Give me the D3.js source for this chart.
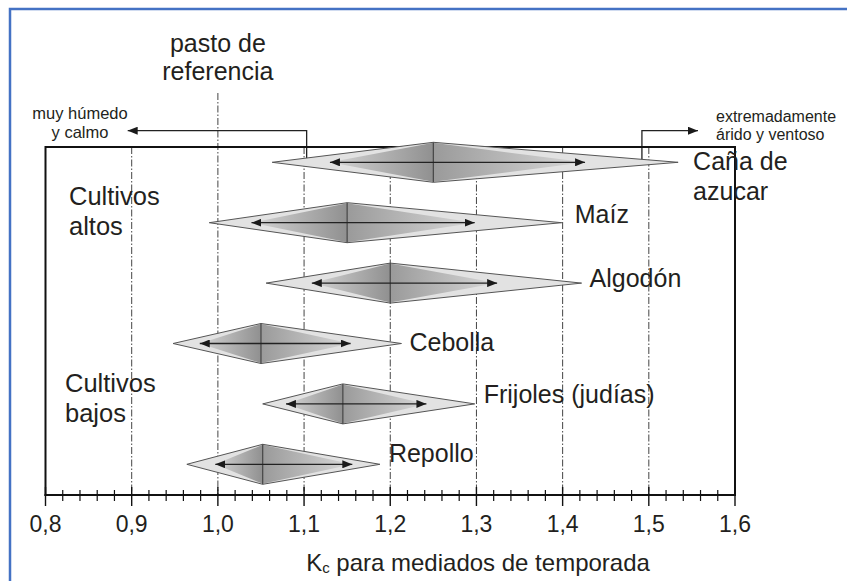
<!DOCTYPE html>
<html>
<head>
<meta charset="utf-8">
<script src="https://cdn.jsdelivr.net/npm/d3@7"></script>
<style>
  html, body { margin: 0; padding: 0; background: #fff; }
  svg { display: block; font-family: 'Liberation Sans', Arial, sans-serif; }
  .lbl { fill: #231f20; }
</style>
</head>
<body>
<div id="chart"></div>
<script>
'use strict';

// crops, top to bottom
var crops = ['Caña de azucar', 'Maíz', 'Algodón', 'Cebolla', 'Frijoles (judías)', 'Repollo'];
// Kc mid-season: full range (outer diamond), typical range (arrows), central value
var kcMin    = [1.063, 0.990, 1.056, 0.948, 1.052, 0.964];
var kcLow    = [1.130, 1.039, 1.109, 0.979, 1.079, 0.997];
var kcCenter = [1.250, 1.150, 1.200, 1.050, 1.145, 1.052];
var kcHigh   = [1.426, 1.298, 1.324, 1.154, 1.242, 1.156];
var kcMax    = [1.534, 1.399, 1.422, 1.213, 1.298, 1.188];
var majorTicks = [0.8, 0.9, 1.0, 1.1, 1.2, 1.3, 1.4, 1.5, 1.6];
var gridValues = [0.9, 1.0, 1.1, 1.2, 1.3, 1.4, 1.5];
var referenceKc = 1.0;
var humidKc = 1.103, aridKc = 1.492;

// label nudges (dx from outer tip, dy from row centre)
var labelShift = [[15, 8], [13, 0], [8, 4], [8, 7], [9, -1], [9, -2]];

var W = 847, H = 581;
var svg = d3.select('#chart').append('svg')
  .attr('width', W).attr('height', H);

// blue frame (top and left edges visible)
svg.append('path')
  .attr('d', 'M10,' + H + 'V9H' + W)
  .attr('fill', 'none').attr('stroke', '#4472c4').attr('stroke-width', 2.5);

var x = d3.scaleLinear().domain([0.8, 1.6]).range([45.5, 735]);
var y = d3.scalePoint().domain(crops).range([162.3, 464.3]);
var boxTop = 147, axisY = 495, halfH = 20;

var defs = svg.append('defs');
// left half darkens toward the centre, right half lightens away from it
[['gradL', '#d4d4d4', '#909090'], ['gradR', '#9a9a9a', '#d8d8d8']].forEach(function (g) {
  var lg = defs.append('linearGradient').attr('id', g[0])
    .attr('x1', 0).attr('x2', 1).attr('y1', 0).attr('y2', 0);
  lg.append('stop').attr('offset', 0).attr('stop-color', g[1]);
  lg.append('stop').attr('offset', 1).attr('stop-color', g[2]);
});

['arrowEnd', 'arrowStart'].forEach(function (id, k) {
  defs.append('marker').attr('id', id)
    .attr('viewBox', '0 0 10 8').attr('refX', k ? 0 : 10).attr('refY', 4)
    .attr('markerWidth', 10).attr('markerHeight', 8)
    .attr('markerUnits', 'userSpaceOnUse').attr('orient', 'auto')
    .append('path')
      .attr('d', k ? 'M0,4L10,0L10,8Z' : 'M0,0L10,4L0,8Z')
      .attr('fill', '#1a1a1a');
});

// dash-dot grid lines
svg.append('g').selectAll('line')
  .data(gridValues)
  .enter().append('line')
    .attr('x1', function (d) { return x(d); })
    .attr('x2', function (d) { return x(d); })
    .attr('y1', function (d) { return d === referenceKc ? 93 : boxTop; })
    .attr('y2', axisY)
    .attr('stroke', '#444').attr('stroke-width', 1)
    .attr('stroke-dasharray', '7,2,1.5,2');

// climate brackets
var bracket = svg.append('g').attr('fill', 'none').attr('stroke', '#222').attr('stroke-width', 1.3);
bracket.append('path')
  .attr('d', 'M' + x(humidKc) + ',' + (y(crops[0]) - 2) + 'V130.7H' + (x(0.9) - 4))
  .attr('marker-end', 'url(#arrowEnd)');
bracket.append('path')
  .attr('d', 'M' + x(aridKc) + ',' + (y(crops[0]) - 1) + 'V130.7H' + 698)
  .attr('marker-end', 'url(#arrowEnd)');

// plot frame
svg.append('rect')
  .attr('x', x(0.8)).attr('y', boxTop)
  .attr('width', x(1.6) - x(0.8)).attr('height', axisY - boxTop)
  .attr('fill', 'none').attr('stroke', '#111').attr('stroke-width', 2);

// diamonds
var rows = svg.append('g').selectAll('g')
  .data(crops)
  .enter().append('g');

function outline(d, i) {
  var cy = y(d), cx = x(kcCenter[i]);
  return 'M' + x(kcMin[i]) + ',' + cy + 'L' + cx + ',' + (cy - halfH) +
    'L' + x(kcMax[i]) + ',' + cy + 'L' + cx + ',' + (cy + halfH) + 'Z';
}

rows.append('path')
  .attr('d', outline)
  .attr('fill', '#e2e2e2');

rows.append('path')
  .attr('d', function (d, i) {
    var cy = y(d), cx = x(kcCenter[i]);
    return 'M' + x(kcLow[i]) + ',' + cy + 'L' + cx + ',' + (cy - halfH + 0.5) +
      'L' + cx + ',' + (cy + halfH - 0.5) + 'Z';
  })
  .attr('fill', 'url(#gradL)');

rows.append('path')
  .attr('d', function (d, i) {
    var cy = y(d), cx = x(kcCenter[i]);
    return 'M' + cx + ',' + (cy - halfH + 0.5) + 'L' + x(kcHigh[i]) + ',' + cy +
      'L' + cx + ',' + (cy + halfH - 0.5) + 'Z';
  })
  .attr('fill', 'url(#gradR)');

rows.append('path')
  .attr('d', outline)
  .attr('fill', 'none').attr('stroke', '#555').attr('stroke-width', 1);

rows.append('line')
  .attr('x1', function (d, i) { return x(kcCenter[i]); })
  .attr('x2', function (d, i) { return x(kcCenter[i]); })
  .attr('y1', function (d) { return y(d) - halfH; })
  .attr('y2', function (d) { return y(d) + halfH; })
  .attr('stroke', '#444').attr('stroke-width', 1.2);

rows.append('line')
  .attr('x1', function (d, i) { return x(kcLow[i]); })
  .attr('x2', function (d, i) { return x(kcHigh[i]); })
  .attr('y1', function (d) { return y(d); })
  .attr('y2', function (d) { return y(d); })
  .attr('stroke', '#222').attr('stroke-width', 1.3)
  .attr('marker-start', 'url(#arrowStart)')
  .attr('marker-end', 'url(#arrowEnd)');

// crop labels
rows.append('text')
  .attr('class', 'lbl')
  .attr('font-size', 25)
  .attr('x', function (d, i) { return x(kcMax[i]) + labelShift[i][0]; })
  .attr('y', function (d, i) { return y(d) + labelShift[i][1]; })
  .each(function (d) {
    var words = d === 'Caña de azucar' ? ['Caña de', 'azucar'] : [d];
    var t = d3.select(this), x0 = t.attr('x');
    words.forEach(function (w, k) {
      t.append('tspan').attr('x', x0).attr('dy', k ? 30 : 0).text(w);
    });
  });

// group labels
var groups = [['Cultivos', 'altos', 69, 205], ['Cultivos', 'bajos', 65, 392]];
groups.forEach(function (g) {
  var t = svg.append('text').attr('class', 'lbl').attr('font-size', 25.5)
    .attr('x', g[2]).attr('y', g[3]);
  t.append('tspan').attr('x', g[2]).text(g[0]);
  t.append('tspan').attr('x', g[2]).attr('dy', 29.5).text(g[1]);
});

// annotations
var ref = svg.append('text').attr('class', 'lbl').attr('font-size', 25)
  .attr('text-anchor', 'middle').attr('x', x(referenceKc)).attr('y', 52);
ref.append('tspan').attr('x', x(referenceKc)).text('pasto de');
ref.append('tspan').attr('x', x(referenceKc)).attr('dy', 28.2).text('referencia');

var wet = svg.append('text').attr('class', 'lbl').attr('font-size', 16.5)
  .attr('text-anchor', 'middle').attr('x', 80).attr('y', 119);
wet.append('tspan').attr('x', 80).text('muy húmedo');
wet.append('tspan').attr('x', 80).attr('dy', 18.6).text('y calmo');

var dry = svg.append('text').attr('class', 'lbl').attr('font-size', 16)
  .attr('x', 716).attr('y', 122);
dry.append('tspan').attr('x', 716).text('extremadamente');
dry.append('tspan').attr('x', 716).attr('dy', 18.2).text('árido y ventoso');

// x axis
var comma = d3.formatLocale({ decimal: ',', thousands: '.', grouping: [3], currency: ['', ''] });
var axis = svg.append('g');
axis.append('line')
  .attr('x1', x(0.8) - 1).attr('x2', x(1.6) + 1)
  .attr('y1', axisY).attr('y2', axisY)
  .attr('stroke', '#111').attr('stroke-width', 2);

axis.selectAll('line.minor')
  .data(d3.range(0, 41).map(function (k) { return 0.8 + k * 0.02; })
    .filter(function (v, k) { return k % 5 !== 0; }))
  .enter().append('line')
    .attr('class', 'minor')
    .attr('x1', function (d) { return x(d); })
    .attr('x2', function (d) { return x(d); })
    .attr('y1', axisY - 5).attr('y2', axisY + 6)
    .attr('stroke', '#111').attr('stroke-width', 1.2);

axis.selectAll('line.major')
  .data(majorTicks)
  .enter().append('line')
    .attr('class', 'major')
    .attr('x1', function (d) { return x(d); })
    .attr('x2', function (d) { return x(d); })
    .attr('y1', axisY - 8).attr('y2', axisY + 11)
    .attr('stroke', '#111').attr('stroke-width', 1.4);

axis.selectAll('text')
  .data(majorTicks)
  .enter().append('text')
    .attr('class', 'lbl')
    .attr('font-size', 23)
    .attr('text-anchor', 'middle')
    .attr('x', function (d) { return x(d); })
    .attr('y', 532)
    .text(comma.format('.1f'));

var title = svg.append('text').attr('class', 'lbl').attr('font-size', 24)
  .attr('text-anchor', 'middle').attr('x', 478).attr('y', 571);
title.append('tspan').text('K');
title.append('tspan').attr('font-size', 15).attr('dy', 2).text('c');
title.append('tspan').attr('dy', -2).text(' para mediados de temporada');
</script>
</body>
</html>
